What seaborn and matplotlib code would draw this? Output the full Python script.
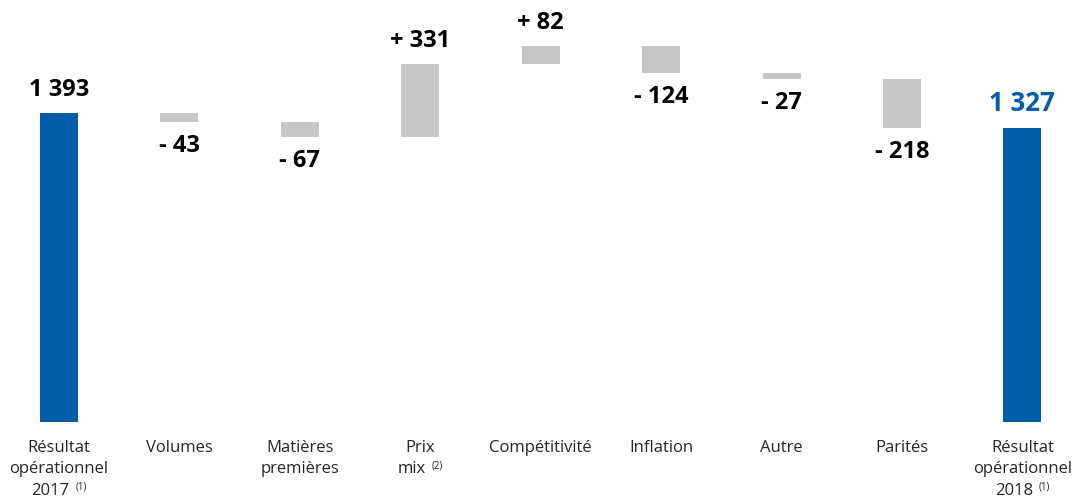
import matplotlib
matplotlib.use("Agg")
import matplotlib.pyplot as plt
import numpy as np
import pandas as pd
import seaborn as sns

# Bridge of operating result 2017 -> 2018 (M€)
categories = ["Résultat opérationnel 2017", "Volumes", "Matières premières", "Prix mix",
              "Compétitivité", "Inflation", "Autre", "Parités", "Résultat opérationnel 2018"]
label_lines = [["Résultat", "opérationnel", "2017"], ["Volumes"], ["Matières", "premières"],
               ["Prix", "mix"], ["Compétitivité"], ["Inflation"], ["Autre"], ["Parités"],
               ["Résultat", "opérationnel", "2018"]]
label_notes = ["(1)", "", "", "(2)", "", "", "", "", "(1)"]
start_value = 1393
changes = [-43, -67, 331, 82, -124, -27, -218]
end_value = 1327
value_labels = ["1 393", "- 43", "- 67", "+ 331", "+ 82", "- 124", "- 27", "- 218", "1 327"]

# Waterfall geometry from the running total
running = start_value + np.concatenate([[0], np.cumsum(changes)])
bottoms = [0] + [min(running[k], running[k + 1]) for k in range(len(changes))] + [0]
heights = [start_value] + [abs(c) for c in changes] + [end_value]
df = pd.DataFrame({"cat": categories, "bottom": bottoms, "height": heights})

BLUE = "#005DA9"
GREY = "#C6C6C6"
TEXT = "#262626"

sns.set_theme(style="white")
plt.rcParams["font.family"] = ["Open Sans", "DejaVu Sans"]

fig = plt.figure(figsize=(10.73, 5.0), dpi=100)
ax = fig.add_axes([0, 0, 1, 1])

sns.barplot(data=df, x="cat", y="height", bottom=df["bottom"].values, color=GREY,
            width=0.316, errorbar=None, ax=ax, saturation=1)
for k, p in enumerate(ax.patches):
    p.set_edgecolor("none")
    p.set_facecolor(BLUE if k in (0, len(ax.patches) - 1) else GREY)

ax.set_xlim(-0.49, 8.42)
ax.set_ylim(-352, 1902)
ax.set_axis_off()

# Value labels: above rising / total bars, below falling bars
for i, txt in enumerate(value_labels):
    top = bottoms[i] + heights[i]
    rising = i == 0 or i == len(value_labels) - 1 or changes[i - 1] > 0
    is_end = i == len(value_labels) - 1
    if rising:
        ax.annotate(txt, xy=(i, top), xytext=(0, 17), textcoords="offset pixels",
                    ha="center", va="baseline", fontweight="bold",
                    fontsize=18.5 if is_end else 17,
                    color=BLUE if is_end else "black")
    else:
        ax.annotate(txt, xy=(i, bottoms[i]), xytext=(0, -30), textcoords="offset pixels",
                    ha="center", va="baseline", fontweight="bold", fontsize=17,
                    color="black")

# Category labels under the baseline, with footnote marks
fig.canvas.draw()
renderer = fig.canvas.get_renderer()
for i, lines in enumerate(label_lines):
    for j, line in enumerate(lines):
        dy = -(30 + 21.5 * j)
        t = ax.annotate(line, xy=(i, 0), xytext=(0, dy), textcoords="offset pixels",
                        ha="center", va="baseline", fontsize=12, color=TEXT)
        if j == len(lines) - 1 and label_notes[i]:
            s = ax.annotate(label_notes[i], xy=(i, 0), xytext=(0, dy + 5),
                            textcoords="offset pixels", ha="left", va="baseline",
                            fontsize=7, color=TEXT)
            w_main = t.get_window_extent(renderer).width
            w_sup = s.get_window_extent(renderer).width
            gap = 6
            total = w_main + gap + w_sup
            t.set_horizontalalignment("left")
            t.xyann = (-total / 2, dy)
            s.xyann = (-total / 2 + w_main + gap, dy + 5)

fig.savefig("out.png", dpi=100)
